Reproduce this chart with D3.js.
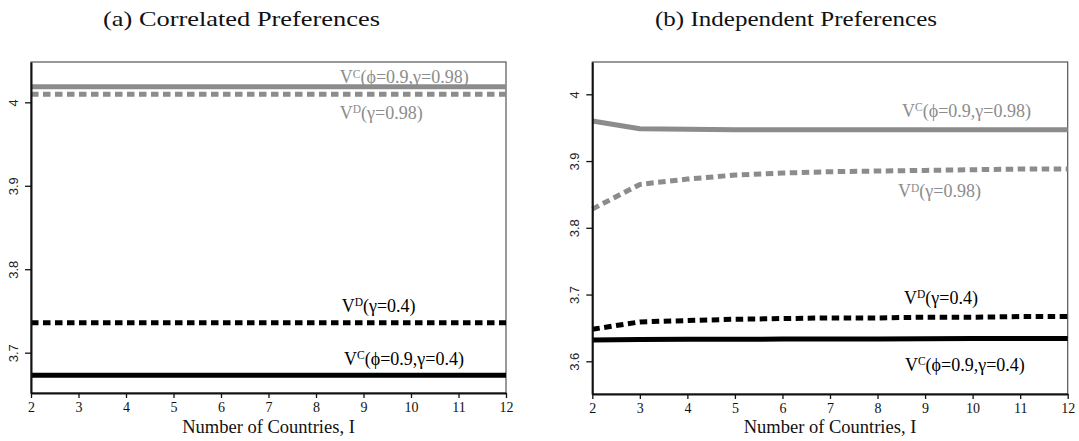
<!DOCTYPE html>
<html>
<head>
<meta charset="utf-8">
<script src="https://cdn.jsdelivr.net/npm/d3@7"></script>
<style>
  html, body { margin: 0; padding: 0; background: #fff; }
  svg { display: block; }
</style>
</head>
<body>
<svg id="chart" width="1079" height="441"></svg>
<script>
// Number of countries on the horizontal axis
const countries = [2, 3, 4, 5, 6, 7, 8, 9, 10, 11, 12];

// (a) Correlated preferences: welfare is flat in the number of countries
const corrVC98 = [4.0187, 4.0187, 4.0187, 4.0187, 4.0187, 4.0187, 4.0187, 4.0187, 4.0187, 4.0187, 4.0187];
const corrVD98 = [4.0096, 4.0096, 4.0096, 4.0096, 4.0096, 4.0096, 4.0096, 4.0096, 4.0096, 4.0096, 4.0096];
const corrVD04 = [3.7360, 3.7360, 3.7360, 3.7360, 3.7360, 3.7360, 3.7360, 3.7360, 3.7360, 3.7360, 3.7360];
const corrVC04 = [3.6730, 3.6730, 3.6730, 3.6730, 3.6730, 3.6730, 3.6730, 3.6730, 3.6730, 3.6730, 3.6730];

// (b) Independent preferences
const indVC98 = [3.960, 3.9485, 3.9475, 3.9470, 3.9470, 3.9470, 3.9470, 3.9470, 3.9470, 3.9470, 3.9470];
const indVD98 = [3.828, 3.865, 3.873, 3.879, 3.882, 3.884, 3.885, 3.886, 3.887, 3.888, 3.888];
const indVD04 = [3.648, 3.659, 3.661, 3.663, 3.664, 3.665, 3.665, 3.666, 3.666, 3.667, 3.667];
const indVC04 = [3.632, 3.6325, 3.633, 3.633, 3.6333, 3.6335, 3.6335, 3.6337, 3.634, 3.634, 3.634];

// Axis ticks
const xTicks = [2, 3, 4, 5, 6, 7, 8, 9, 10, 11, 12];
const yTicksA = [3.7, 3.8, 3.9, 4];
const yTicksB = [3.6, 3.7, 3.8, 3.9, 4];
const yTickLabelsA = ["3.7", "3.8", "3.9", "4"];
const yTickLabelsB = ["3.6", "3.7", "3.8", "3.9", "4"];

const GRAY = "#8c8c8c";
const BLACK = "#000";

const svg = d3.select("#chart");
const serif = "'Liberation Serif', 'Times New Roman', serif";
const sans = "'Liberation Sans', Arial, sans-serif";

function panel(cfg) {
  const x = d3.scaleLinear().domain([2, 12]).range([cfg.left, cfg.right]);
  const y = d3.scaleLinear().domain(cfg.yDomain).range([cfg.bottom, cfg.top]);
  const g = svg.append("g");

  // plot frame
  g.append("rect")
    .attr("x", cfg.left).attr("y", cfg.top)
    .attr("width", cfg.right - cfg.left).attr("height", cfg.bottom - cfg.top)
    .attr("fill", "none").attr("stroke", "#555").attr("stroke-width", 1.2);

  // series lines
  const line = d3.line().x((d, i) => x(countries[i])).y(d => y(d));
  cfg.series.forEach(s => {
    g.append("path")
      .datum(s.values)
      .attr("d", line)
      .attr("fill", "none")
      .attr("stroke", s.color)
      .attr("stroke-width", 5)
      .attr("stroke-dasharray", s.dashed ? "7.5,4.5" : null)
      .attr("stroke-linejoin", "round");
  });

  // x axis
  const xAxis = d3.axisBottom(x).tickValues(xTicks).tickSize(5).tickSizeOuter(0).tickFormat(d3.format("d"));
  const gx = g.append("g").attr("transform", `translate(0,${cfg.bottom})`).call(xAxis);
  gx.attr("font-family", serif).attr("font-size", 14);
  gx.select(".domain").attr("stroke", "#111").attr("stroke-width", 2);
  gx.selectAll(".tick line").attr("stroke", "#111").attr("stroke-width", 1.3);
  gx.selectAll(".tick text")
    .attr("fill", "#111")
    .attr("dy", null).attr("y", 19);

  // y axis with rotated labels
  const yAxis = d3.axisLeft(y).tickValues(cfg.yTicks).tickSize(6).tickSizeOuter(0)
    .tickFormat((d, i) => cfg.yLabels[i]);
  const gy = g.append("g").attr("transform", `translate(${cfg.left},0)`).call(yAxis);
  gy.attr("font-family", sans).attr("font-size", 13);
  gy.select(".domain").attr("stroke", "#111").attr("stroke-width", 2);
  gy.selectAll(".tick line").attr("stroke", "#111").attr("stroke-width", 1.3);
  gy.selectAll(".tick text")
    .attr("fill", "#222")
    .attr("x", null).attr("dy", null)
    .attr("text-anchor", "middle")
    .attr("transform", `translate(${cfg.yLabelOffset},0) rotate(-90)`);

  // series annotations
  cfg.labels.forEach(l => {
    const t = g.append("text")
      .attr("x", x(l.x)).attr("y", y(l.y))
      .attr("font-family", serif).attr("font-size", 18)
      .attr("fill", l.color);
    t.append("tspan").text("V");
    t.append("tspan").attr("font-size", 11.5).attr("dy", -5.5).text(l.sup);
    t.append("tspan").attr("dy", 5.5).text(l.rest);
  });

  // panel title
  svg.append("text")
    .attr("x", cfg.titleX).attr("y", 26)
    .attr("font-family", serif).attr("font-size", 22)
    .attr("textLength", cfg.titleLen).attr("lengthAdjust", "spacingAndGlyphs")
    .attr("fill", "#111")
    .text(cfg.title);

  // x axis title
  svg.append("text")
    .attr("x", (cfg.left + cfg.right) / 2).attr("y", 433)
    .attr("text-anchor", "middle")
    .attr("font-family", serif).attr("font-size", 18.5)
    .attr("fill", "#111")
    .text("Number of Countries, I");
}

panel({
  left: 31, right: 506, top: 62, bottom: 393,
  yDomain: [3.6517, 4.0483],
  yTicks: yTicksA, yLabels: yTickLabelsA, yLabelOffset: -13,
  title: "(a) Correlated Preferences", titleX: 103, titleLen: 277,
  series: [
    { values: corrVC98, color: GRAY, dashed: false },
    { values: corrVD98, color: GRAY, dashed: true },
    { values: corrVD04, color: BLACK, dashed: true },
    { values: corrVC04, color: BLACK, dashed: false }
  ],
  labels: [
    { x: 8.50, y: 4.0230, sup: "C", rest: "(ϕ=0.9,γ=0.98)", color: GRAY },
    { x: 8.50, y: 3.9805, sup: "D", rest: "(γ=0.98)", color: GRAY },
    { x: 8.54, y: 3.7488, sup: "D", rest: "(γ=0.4)", color: BLACK },
    { x: 8.59, y: 3.6853, sup: "C", rest: "(ϕ=0.9,γ=0.4)", color: BLACK }
  ]
});

panel({
  left: 592.3, right: 1067.7, top: 62, bottom: 394,
  yDomain: [3.551, 4.0484],
  yTicks: yTicksB, yLabels: yTickLabelsB, yLabelOffset: -13,
  title: "(b) Independent Preferences", titleX: 655, titleLen: 282,
  series: [
    { values: indVC98, color: GRAY, dashed: false },
    { values: indVD98, color: GRAY, dashed: true },
    { values: indVD04, color: BLACK, dashed: true },
    { values: indVC04, color: BLACK, dashed: false }
  ],
  labels: [
    { x: 8.515, y: 3.966, sup: "C", rest: "(ϕ=0.9,γ=0.98)", color: GRAY },
    { x: 8.43, y: 3.8461, sup: "D", rest: "(γ=0.98)", color: GRAY },
    { x: 8.556, y: 3.6865, sup: "D", rest: "(γ=0.4)", color: BLACK },
    { x: 8.576, y: 3.5855, sup: "C", rest: "(ϕ=0.9,γ=0.4)", color: BLACK }
  ]
});
</script>
</body>
</html>
